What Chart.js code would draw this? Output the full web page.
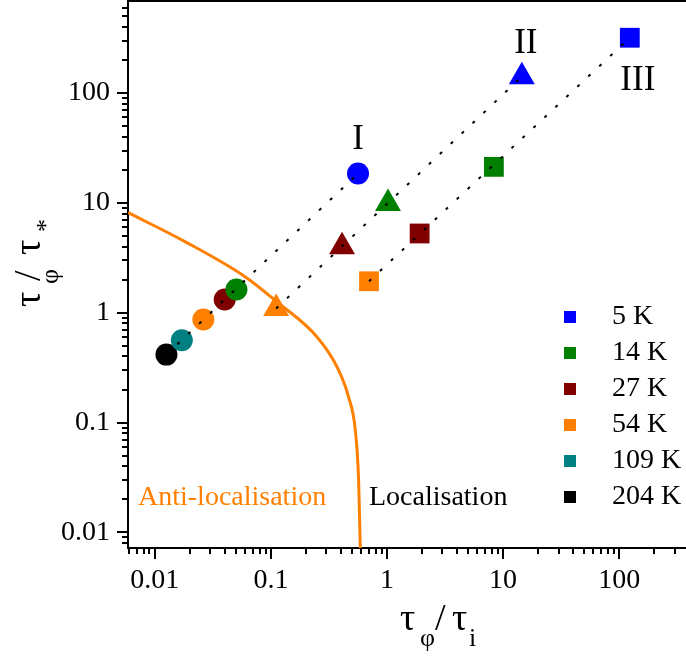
<!DOCTYPE html>
<html>
<head>
<meta charset="utf-8">
<script src="https://cdn.jsdelivr.net/npm/chart.js@4.4.1/dist/chart.umd.min.js"></script>
<style>
  html, body { margin: 0; padding: 0; background: #fff; }
  #wrap { width: 686px; height: 662px; }
</style>
</head>
<body>
<div id="wrap"><canvas id="chart" width="686" height="662"></canvas></div>
<script>
// temperatures, one colour each
const temps = ["5 K", "14 K", "27 K", "54 K", "109 K", "204 K"];
const tempColors = ["#0000ff", "#008000", "#800000", "#ff8000", "#008080", "#000000"];

// sample I (circles), 5 K ... 204 K
const sampleIx = [0.563, 0.0505, 0.040, 0.0262, 0.0171, 0.0126];
const sampleIy = [18.5, 1.63, 1.32, 0.867, 0.562, 0.416];
// sample II (triangles), 5 K ... 54 K
const sampleIIx = [14.5, 1.02, 0.41, 0.111];
const sampleIIy = [140.8, 9.9, 3.98, 1.094];
// sample III (squares), 5 K ... 54 K
const sampleIIIx = [123.4, 8.33, 1.91, 0.70];
const sampleIIIy = [319, 21.3, 5.27, 1.936];

// boundary anti-localisation / localisation
const boundaryX = [0.0059, 0.01836, 0.0603, 0.1131, 0.2497, 0.3714, 0.467, 0.5337, 0.5697, 0.589];
const boundaryY = [8.15, 4.42, 2.12, 1.254, 0.602, 0.321, 0.171, 0.085, 0.0298, 0.0070];

const xTicks = [0.01, 0.1, 1, 10, 100];
const yTicks = [0.01, 0.1, 1, 10, 100];

const samples = [
  { name: "I", xs: sampleIx, ys: sampleIy, shape: "circle", r: 11, dx: 0, dy: -25 },
  { name: "II", xs: sampleIIx, ys: sampleIIy, shape: "triangle", r: 15, dx: 4, dy: -24 },
  { name: "III", xs: sampleIIIx, ys: sampleIIIy, shape: "rect", r: 14, dx: 8, dy: 52 },
];

const serif = "'Liberation Serif', 'Times New Roman', serif";
Chart.defaults.font.family = serif;
Chart.defaults.color = "#000";

// one dataset per temperature
const datasets = temps.map((t, i) => {
  const have = samples.filter((s) => i < s.xs.length);
  return {
    label: t,
    data: have.map((s) => ({ x: s.xs[i], y: s.ys[i] })),
    pointStyle: have.map((s) => s.shape),
    pointRadius: have.map((s) => s.r),
    pointHoverRadius: have.map((s) => s.r),
    backgroundColor: tempColors[i],
    borderColor: tempColors[i],
    pointBorderWidth: 0,
    showLine: false,
    order: 1,
  };
});

// dotted guide through each sample
samples.forEach((s) => {
  const last = s.xs.length - 1;
  datasets.push({
    label: "line " + s.name,
    data: [{ x: s.xs[last], y: s.ys[last] }, { x: s.xs[0], y: s.ys[0] }],
    showLine: true,
    borderColor: "#000",
    borderWidth: 2,
    borderDash: [3, 12],
    pointRadius: 0,
    order: 0,
  });
});

datasets.push({
  label: "boundary",
  data: boundaryX.map((x, i) => ({ x, y: boundaryY[i] })),
  showLine: true,
  borderColor: "#ff8000",
  borderWidth: 3,
  pointRadius: 0,
  cubicInterpolationMode: "monotone",
  order: 5,
});

// legend swatches: small square sitting left in a wider image
const swatches = tempColors.map((c) => {
  const cv = document.createElement("canvas");
  cv.width = 40;
  cv.height = 12;
  const g = cv.getContext("2d");
  g.fillStyle = c;
  g.fillRect(0, 0, 12, 12);
  return cv;
});

const legendPlace = {
  id: "legendPlace",
  afterLayout(chart) {
    const lg = chart.legend;
    const a = chart.chartArea;
    lg.left = 562;
    lg.top = 295;
    lg.right = a.right;
    lg.bottom = a.bottom;
    lg.width = lg.right - lg.left;
    lg.height = lg.bottom - lg.top;
  },
};

const noPad = (s) => {
  s.paddingTop = 0;
  s.paddingBottom = 0;
  s.paddingLeft = 0;
  s.paddingRight = 0;
};

const frame = {
  id: "frame",
  afterDraw(chart) {
    const { ctx, chartArea: a, scales } = chart;
    const x = scales.x, y = scales.y;
    ctx.save();
    ctx.strokeStyle = "#000";
    ctx.lineWidth = 2;
    ctx.beginPath();
    ctx.moveTo(a.left - 1, a.top);
    ctx.lineTo(a.right, a.top);
    for (let e = -3; e <= 3; e++) {
      for (let m = 1; m <= 9; m++) {
        const v = m * Math.pow(10, e);
        const len = m === 1 ? 11 : 6;
        if (v >= x.min && v <= x.max) {
          const px = Math.round(x.getPixelForValue(v));
          ctx.moveTo(px, a.bottom);
          ctx.lineTo(px, a.bottom + len);
        }
        if (v >= y.min && v <= y.max) {
          const py = Math.round(y.getPixelForValue(v));
          ctx.moveTo(a.left - len, py);
          ctx.lineTo(a.left, py);
        }
      }
    }
    ctx.stroke();

    // sample labels I, II, III
    ctx.fillStyle = "#000";
    ctx.textAlign = "center";
    ctx.textBaseline = "alphabetic";
    ctx.font = "35px " + serif;
    samples.forEach((s) => {
      ctx.fillText(s.name, x.getPixelForValue(s.xs[0]) + s.dx, y.getPixelForValue(s.ys[0]) + s.dy);
    });

    // region labels
    ctx.textAlign = "left";
    ctx.font = "28px " + serif;
    ctx.fillStyle = "#ff8000";
    ctx.fillText("Anti-localisation", a.left + 10, a.bottom - 43);
    ctx.fillStyle = "#000";
    ctx.fillText("Localisation", 369, a.bottom - 43);

    // x title: tau_phi / tau_i
    const big = "38px " + serif, small = "26px " + serif;
    ctx.font = big;
    ctx.fillText("\u03c4", 400, 630);
    ctx.fillText("/", 435, 630);
    ctx.fillText("\u03c4", 452, 630);
    ctx.font = small;
    ctx.fillText("\u03c6", 420, 646);
    ctx.fillText("i", 469, 646);

    // y title: tau_phi / tau_*
    ctx.translate(40, 0);
    ctx.rotate(-Math.PI / 2);
    ctx.font = big;
    ctx.fillText("\u03c4", -307, 0);
    ctx.fillText("/", -281, 0);
    ctx.fillText("\u03c4", -255, 0);
    ctx.font = small;
    ctx.fillText("\u03c6", -284, 18);
    ctx.fillText("*", -232, 14);
    ctx.restore();
  },
};

new Chart(document.getElementById("chart"), {
  type: "scatter",
  data: { datasets },
  options: {
    responsive: false,
    animation: false,
    layout: { autoPadding: false, padding: { top: 1, right: 0, bottom: 0, left: 0 } },
    plugins: {
      tooltip: { enabled: false },
      legend: {
        position: "chartArea",
        fullSize: false,
        align: "start",
        labels: {
          usePointStyle: true,
          boxWidth: 28,
          boxHeight: 12,
          padding: 8,
          color: "#000",
          font: { size: 28 },
          filter: (item) => item.datasetIndex < temps.length,
          generateLabels(chart) {
            const items = Chart.defaults.plugins.legend.labels.generateLabels(chart);
            items.forEach((it) => {
              if (it.datasetIndex < swatches.length) it.pointStyle = swatches[it.datasetIndex];
            });
            return items;
          },
        },
      },
    },
    scales: {
      x: {
        type: "logarithmic",
        min: 0.00588,
        max: 376,
        afterBuildTicks: (s) => { s.ticks = xTicks.map((v) => ({ value: v })); },
        afterFit: (s) => { s.height = 114; noPad(s); },
        grid: { display: false, drawTicks: false },
        border: { display: true, color: "#000", width: 2 },
        ticks: { autoSkip: false, maxRotation: 0, padding: 16, font: { size: 28 }, callback: (v) => String(v) },
      },
      y: {
        type: "logarithmic",
        min: 0.00722,
        max: 689,
        afterBuildTicks: (s) => { s.ticks = yTicks.map((v) => ({ value: v })); },
        afterFit: (s) => { s.width = 128; noPad(s); },
        grid: { display: false, drawTicks: false },
        border: { display: true, color: "#000", width: 2 },
        ticks: { autoSkip: false, padding: 18, font: { size: 28 }, callback: (v) => String(v) },
      },
    },
  },
  plugins: [legendPlace, frame],
});
</script>
</body>
</html>
